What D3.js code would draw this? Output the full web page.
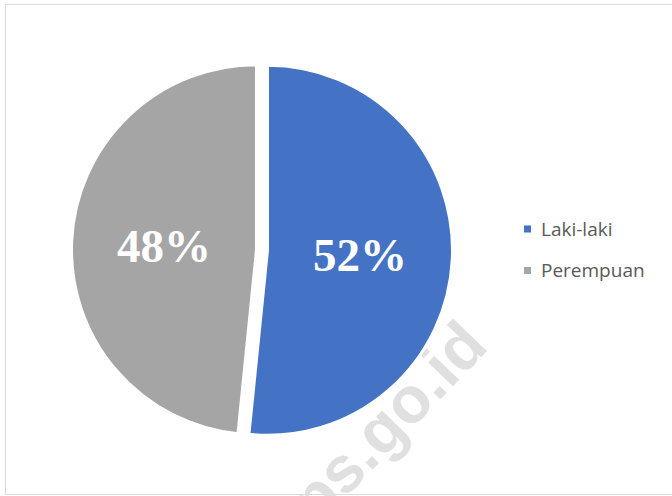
<!DOCTYPE html>
<meta charset="utf-8">
<style>
    body { margin: 0; background: #fff; }
    .legend text { font-family: "Open Sans", sans-serif; font-size: 19px; fill: #595959; }
    .labels text { font-family: "Liberation Serif", "Times New Roman", serif; font-weight: bold; font-size: 47px; fill: #fff; }
</style>
<svg width="672" height="496"></svg>
<script src="https://d3js.org/d3.v7.min.js"></script>
<script>
    // data
    var categories = ["Laki-laki", "Perempuan"];
    var values = [51.6, 48.4];
    var colors = ["#4472C4", "#A5A5A5"];

    var svg = d3.select("svg");

    // chart frame
    svg.append("rect")
        .attr("x", 5.5).attr("y", 4.5)
        .attr("width", 720).attr("height", 490)
        .attr("fill", "none")
        .attr("stroke", "#d9d9d9");

    // watermark
    svg.append("text")
        .attr("transform", "translate(490,348) rotate(-46)")
        .attr("text-anchor", "end")
        .style("font-family", "Liberation Sans, Arial, sans-serif")
        .style("font-weight", "bold")
        .style("font-size", "65px")
        .attr("fill", "#e0e0e0")
        .text("bps.go.id");

    var cx = 262, cy = 250, radius = 185, explode = 5.5;

    var color = d3.scaleOrdinal().domain(categories).range(colors);

    var pie = d3.pie().sort(null).value(function(d) { return d.value; });
    var arcs = pie(categories.map(function(c, i) { return {name: c, value: values[i]}; }));
    var total = d3.sum(values);

    var arc = d3.arc().innerRadius(0).outerRadius(radius);
    var labelArc = d3.arc().innerRadius(radius * 0.5).outerRadius(radius * 0.5);

    function offset(d) {
        var a = (d.startAngle + d.endAngle) / 2;
        return [Math.sin(a) * explode, -Math.cos(a) * explode];
    }

    var g = svg.append("g").attr("transform", "translate(" + cx + "," + cy + ")");

    g.selectAll("path")
        .data(arcs)
        .enter().append("path")
        .attr("transform", function(d) { var o = offset(d); return "translate(" + o[0] + "," + o[1] + ")"; })
        .attr("d", arc)
        .attr("fill", function(d) { return color(d.data.name); })
        .attr("stroke", "#fff")
        .attr("stroke-width", 3);

    var fmt = d3.format(".0%");
    g.append("g").attr("class", "labels")
        .selectAll("text")
        .data(arcs)
        .enter().append("text")
        .attr("transform", function(d) {
            var c = labelArc.centroid(d), o = offset(d);
            return "translate(" + (c[0] + o[0]) + "," + (c[1] + o[1]) + ")";
        })
        .attr("text-anchor", "middle")
        .attr("dy", "0.35em")
        .text(function(d) { return fmt(d.data.value / total); });

    // legend
    var legend = svg.append("g").attr("class", "legend")
        .attr("transform", "translate(524,229)");

    var item = legend.selectAll("g")
        .data(categories)
        .enter().append("g")
        .attr("transform", function(d, i) { return "translate(0," + (i * 41.5) + ")"; });

    item.append("rect")
        .attr("x", 0).attr("y", -3.5)
        .attr("width", 7).attr("height", 7)
        .attr("fill", function(d) { return color(d); });

    item.append("text")
        .attr("x", 17)
        .attr("y", 6.5)
        .text(function(d) { return d; });
</script>
